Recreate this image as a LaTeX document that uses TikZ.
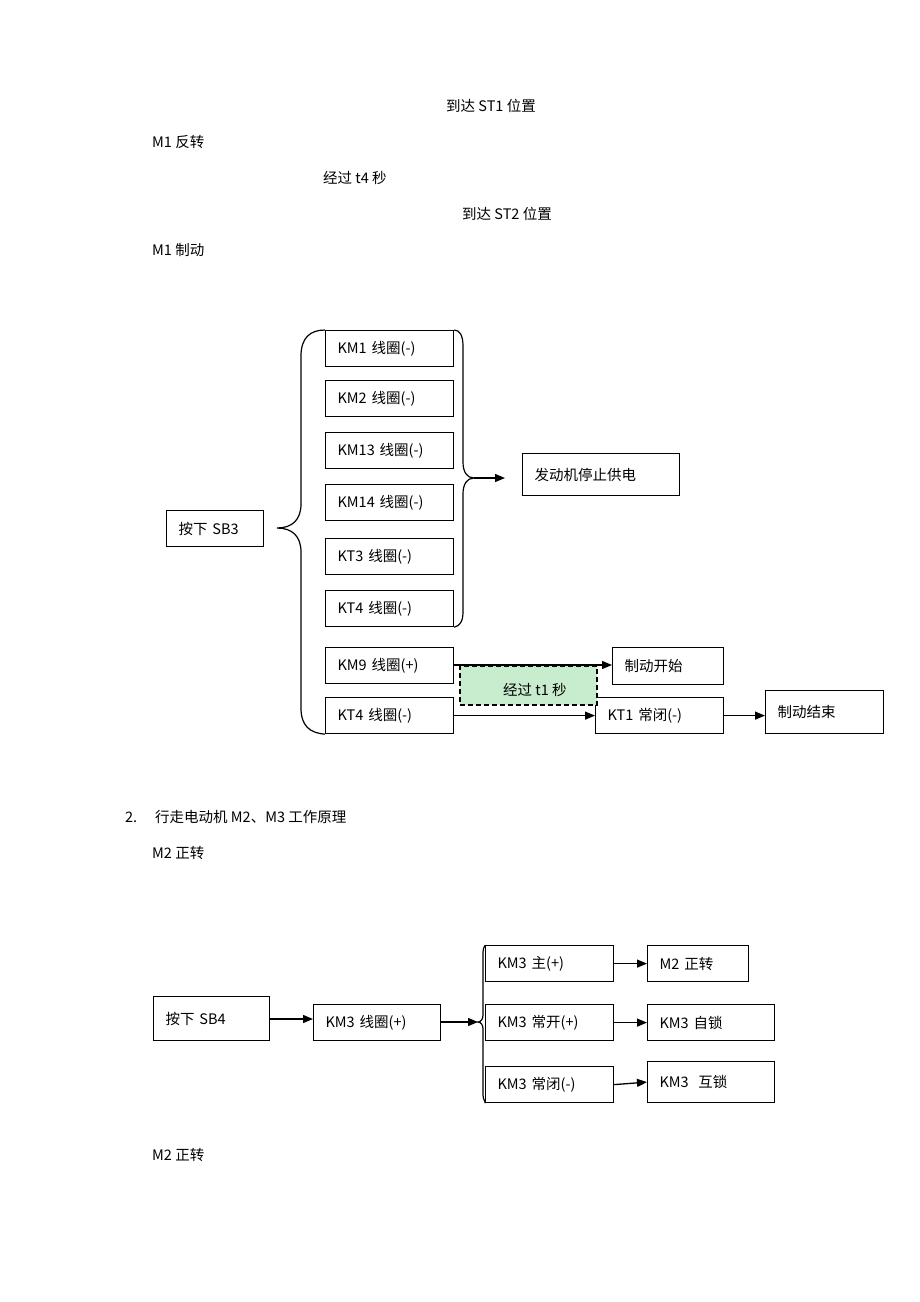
\documentclass[tikz,border=0pt]{standalone}
\usepackage{fontspec}
\setmainfont{Noto Sans CJK SC}
\usetikzlibrary{arrows.meta}
\definecolor{lgreen}{RGB}{200,236,206}
\tikzset{
  box/.style={draw, line width=1.2pt, anchor=north west, inner xsep=12pt, inner ysep=0pt, align=left},
  txt/.style={anchor=west, inner sep=0pt},
  arr/.style={line width=1.3pt, -{Triangle[length=10pt,width=8pt]}},
  brace/.style={line width=1.2pt},
}
\begin{document}
\begin{tikzpicture}[x=1pt,y=-1pt,font=\fontsize{14.5}{17}\selectfont]
\useasboundingbox (0,0) rectangle (920,1302);
\fill[white] (0,0) rectangle (920,1302);

% header texts
\node[txt] (t1) at (446,106) {到达 ST1 位置};
\node[txt] (t2) at (152,142) {M1 反转};
\node[txt] (t3) at (323,178) {经过 t4 秒};
\node[txt] (t4) at (462,214) {到达 ST2 位置};
\node[txt] (t5) at (152,250) {M1 制动};

% diagram 1
\node[box, text width=73pt, minimum height=36pt] (sb3) at (166,510) {按下 SB3};
\node[box, text width=104pt, minimum height=36pt] (km1) at (325,330) {KM1 线圈(-)};
\node[box, text width=104pt, minimum height=36pt] (km2) at (325,380) {KM2 线圈(-)};
\node[box, text width=104pt, minimum height=36pt] (km13) at (325,432) {KM13 线圈(-)};
\node[box, text width=104pt, minimum height=36pt] (km14) at (325,484) {KM14 线圈(-)};
\node[box, text width=104pt, minimum height=36pt] (kt3) at (325,538) {KT3 线圈(-)};
\node[box, text width=104pt, minimum height=36pt] (kt4a) at (325,590) {KT4 线圈(-)};
\node[box, text width=104pt, minimum height=36pt] (km9) at (325,647) {KM9 线圈(+)};
\node[box, text width=104pt, minimum height=36pt] (kt4b) at (325,697) {KT4 线圈(-)};

\node[box, text width=133pt, minimum height=42pt] (stop) at (522,453) {发动机停止供电};
\node[box, text width=87pt, minimum height=37pt] (zdks) at (612,647) {制动开始};
\node[box, text width=104pt, minimum height=36pt] (kt1) at (595,697) {KT1 常闭(-)};
\node[box, text width=94pt, minimum height=43pt] (zdjs) at (765,690) {制动结束};

\node[draw, dash pattern=on 5pt off 3pt, line width=1.6pt, fill=lgreen, anchor=north west, minimum width=137pt, minimum height=39pt, inner sep=0pt] (t1s) at (459,665) {};
\node[txt] (t1stxt) at (503,690) {经过 t1 秒};

% left brace
\coordinate (lbt) at (277,528);
\draw[brace] (km1.north west) .. controls (310,330) and (301,338) .. (301,356) -- (301,504) .. controls (301,520) and (292,528) .. (lbt)
  .. controls (292,528) and (301,536) .. (301,552) -- (301,708) .. controls (301,726) and (310,733) .. (kt4b.south west);
% right brace
\coordinate (rbt) at (474,478);
\draw[brace] (km1.north east) .. controls (460,330) and (463,336) .. (463,346) -- (463,462) .. controls (463,472) and (467,478) .. (rbt)
  .. controls (467,478) and (463,484) .. (463,494) -- (463,612) .. controls (463,621) and (460,626) .. (kt4a.south east);
\draw[arr] (rbt) -- (505,478) coordinate (rbe);

\draw[arr] (km9.east |- 0,665) -- (zdks.west |- 0,665);
\draw[arr] (kt4b.east) -- (kt1.west);
\draw[arr] (kt1.east) -- (zdjs.west |- kt1.east);

% section 2
\node[txt] (n2) at (125,817) {2.};
\node[txt] (sec2) at (155,817) {行走电动机 M2、M3 工作原理};
\node[txt] (m2a) at (152,853) {M2 正转};

\node[box, text width=92pt, minimum height=44pt] (sb4) at (153,996) {按下 SB4};
\node[box, text width=103pt, minimum height=36pt] (km3) at (313,1004) {KM3 线圈(+)};
\node[box, text width=104pt, minimum height=36pt] (km3z) at (485,945) {KM3 主(+)};
\node[box, text width=104pt, minimum height=36pt] (km3k) at (485,1004) {KM3 常开(+)};
\node[box, text width=104pt, minimum height=36pt] (km3b) at (485,1066) {KM3 常闭(-)};
\node[box, text width=77pt, minimum height=36pt] (m2z) at (647,945) {M2 正转};
\node[box, text width=103pt, minimum height=36pt] (zs) at (647,1004) {KM3 自锁};
\node[box, text width=103pt, minimum height=41pt] (hs) at (647,1061) {KM3\ \ 互锁};

\coordinate (bt2) at (478,1022);
\draw[brace] (km3z.north west) .. controls (486,945) and (483,947) .. (483,952) -- (483,1015) .. controls (483,1019) and (481,1022) .. (bt2)
  .. controls (481,1022) and (483,1025) .. (483,1029) -- (483,1095) .. controls (483,1100) and (486,1102) .. (km3b.south west);

\draw[arr] (sb4.east |- 0,1019) -- (km3.west |- 0,1019);
\draw[arr] (km3.east |- bt2) -- (bt2);
\draw[arr] (km3z.east) -- (m2z.west |- km3z.east);
\draw[arr] (km3k.east) -- (zs.west |- km3k.east);
\draw[arr] (km3b.east) -- (hs.west);

\node[txt] (m2b) at (152,1155) {M2 正转};
\end{tikzpicture}
\end{document}
